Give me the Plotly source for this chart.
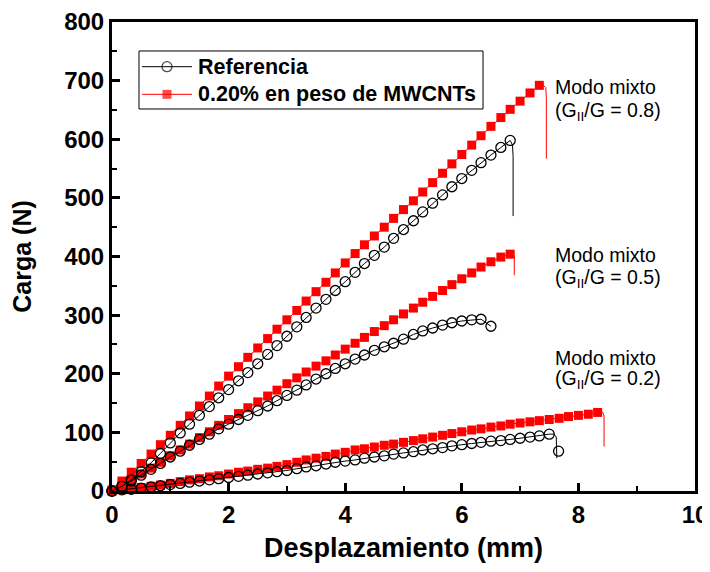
import plotly.graph_objects as go

# Displacement positions of plotted markers (mm)
DISP = [0.00, 0.17, 0.33, 0.50, 0.67, 0.83, 1.00, 1.17, 1.33, 1.50, 1.67, 1.83,
        2.00, 2.17, 2.33, 2.50, 2.67, 2.83, 3.00, 3.17, 3.33, 3.50, 3.67, 3.83,
        4.00, 4.17, 4.33, 4.50, 4.67, 4.83, 5.00, 5.17, 5.33, 5.50, 5.67, 5.83,
        6.00, 6.17, 6.33, 6.50, 6.67, 6.83, 7.00, 7.17, 7.33, 7.50, 7.67, 7.83,
        8.00, 8.17, 8.33]

# Mode mixto GII/G = 0.8
ref_08 = [0, 8, 19, 33, 48, 64, 82, 99, 114, 129, 144, 159, 173, 188, 202, 217,
          233, 248, 264, 280, 296, 312, 327, 342, 357, 373, 388, 402, 416, 431,
          446, 461, 476, 491, 505, 519, 533, 547, 560, 573, 586, 598]
cnt_08 = [2, 17, 32, 47, 63, 79, 95, 112, 128, 145, 162, 179, 196, 212, 228, 244,
          260, 276, 292, 308, 324, 340, 356, 372, 389, 405, 420, 435, 450, 465,
          480, 495, 510, 526, 542, 558, 574, 590, 606, 622, 637, 651, 665, 679, 692]
# Mode mixto GII/G = 0.5
ref_05 = [0, 8, 17, 27, 37, 47, 58, 68, 78, 88, 97, 106, 114, 122, 129, 137,
          145, 154, 163, 172, 181, 191, 200, 209, 217, 225, 232, 240, 246, 252,
          259, 267, 273, 278, 283, 287, 290, 292, 293, 281]
cnt_05 = [0, 9, 19, 29, 39, 49, 60, 70, 80, 91, 101, 112, 122, 132, 142, 152,
          162, 172, 183, 193, 203, 213, 222, 232, 242, 252, 262, 272, 282, 292,
          302, 312, 322, 332, 342, 352, 362, 372, 382, 391, 399, 404]
# Mode mixto GII/G = 0.2
ref_02 = [0, 2, 3, 5, 7, 9, 11, 13, 15, 17, 19, 21, 23, 25, 27, 29, 31, 33, 35,
          38, 41, 43, 46, 49, 51, 53, 56, 58, 60, 63, 65, 67, 70, 72, 74, 77, 79,
          81, 83, 85, 86, 88, 90, 92, 94, 97]
cnt_02 = [0, 2, 4, 6, 8, 10, 13, 16, 19, 21, 24, 26, 29, 32, 34, 37, 39, 42, 45,
          49, 53, 56, 59, 63, 66, 70, 72, 75, 78, 80, 83, 86, 89, 92, 95, 98, 101,
          104, 106, 109, 111, 114, 116, 118, 120, 122, 124, 127, 129, 131, 134]

# Failure (load drop) segments after the last marker
ref_08_tail_x = [6.83, 6.87, 6.88, 6.88]
ref_08_tail_y = [598, 590, 570, 469]
cnt_08_tail_x = [7.33, 7.40, 7.44, 7.45, 7.45]
cnt_08_tail_y = [692, 692, 688, 670, 567]
cnt_05_tail_x = [6.83, 6.89, 6.90, 6.90]
cnt_05_tail_y = [404, 404, 398, 368]
cnt_02_tail_x = [8.33, 8.42, 8.44, 8.44]
cnt_02_tail_y = [134, 134, 128, 76]
ref_02_tail_x = [7.50, 7.58, 7.62, 7.62, 7.63]
ref_02_tail_y = [97, 97, 92, 70, 56]
ref_02_last_x = [7.66]
ref_02_last_y = [68]

series_names = ["Referencia", "0.20% en peso de MWCNTs"]
labels_mode = ["Modo mixto", "Modo mixto", "Modo mixto"]
labels_ratio = ["(G<sub>II</sub>/G = 0.8)", "(G<sub>II</sub>/G = 0.5)", "(G<sub>II</sub>/G = 0.2)"]
label_y1 = [689, 402, 227]
label_y2 = [648, 363, 190]

FONT = "Liberation Sans, Arial, sans-serif"
RED = "#ff0000"

fig = go.Figure()

circ = dict(symbol="circle-open", size=10, color="black", line=dict(width=1.3, color="black"))
sq = dict(symbol="square", size=9, color=RED, line=dict(width=0))

def add_series(y, marker, color):
    fig.add_trace(go.Scatter(x=DISP[:len(y)], y=y, mode="lines+markers",
                             line=dict(color=color, width=1), marker=marker,
                             showlegend=False, cliponaxis=False))

def add_tail(x, y, color):
    fig.add_trace(go.Scatter(x=x, y=y, mode="lines", line=dict(color=color, width=1),
                             showlegend=False, hoverinfo="skip"))

add_tail(ref_08_tail_x, ref_08_tail_y, "black")
add_tail(ref_02_tail_x, ref_02_tail_y, "black")
add_tail(cnt_08_tail_x, cnt_08_tail_y, RED)
add_tail(cnt_05_tail_x, cnt_05_tail_y, RED)
add_tail(cnt_02_tail_x, cnt_02_tail_y, RED)

add_series(cnt_02, sq, RED)
add_series(ref_02, circ, "black")
fig.add_trace(go.Scatter(x=ref_02_last_x, y=ref_02_last_y, mode="markers", marker=circ,
                         showlegend=False, cliponaxis=False))
add_series(cnt_05, sq, RED)
add_series(ref_05, circ, "black")
add_series(cnt_08, sq, RED)
add_series(ref_08, circ, "black")

# ---- custom legend (paper-fraction overlay axes) ----
LEG_X0, LEG_X1, LEG_Y0, LEG_Y1 = 0.0463, 0.6364, 0.8145, 0.9382
SYM_X = [0.0515, 0.0943, 0.1372]
ROW_Y = [0.9047, 0.8458]
TXT_X = 0.1445
fig.add_shape(type="rect", xref="paper", yref="paper", x0=LEG_X0, x1=LEG_X1, y0=LEG_Y0, y1=LEG_Y1,
              line=dict(color="black", width=1), fillcolor="white", layer="below")
for name, ry, color, mk in zip(series_names, ROW_Y, ["black", RED], [circ, sq]):
    mk2 = dict(mk)
    mk2["size"] = [0, mk["size"], 0]
    fig.add_trace(go.Scatter(x=SYM_X, y=[ry] * 3, xaxis="x2", yaxis="y2", mode="lines+markers",
                             line=dict(color=color, width=1), marker=mk2,
                             showlegend=False, hoverinfo="skip"))
    fig.add_annotation(xref="paper", yref="paper", x=TXT_X, y=ry, text=name, showarrow=False,
                       xanchor="left", yanchor="middle",
                       font=dict(family=FONT, size=21.5, color="black", weight="bold"))

for t1, t2, y1, y2 in zip(labels_mode, labels_ratio, label_y1, label_y2):
    fig.add_annotation(x=7.56, y=y1, text=t1, showarrow=False, xanchor="left", yanchor="middle",
                       font=dict(family=FONT, size=19.5, color="black"))
    fig.add_annotation(x=7.56, y=y2, text=t2, showarrow=False, xanchor="left", yanchor="middle",
                       font=dict(family=FONT, size=19.5, color="black"))

axis_common = dict(showline=True, linewidth=3, linecolor="black", mirror=True,
                   ticks="inside", ticklen=8, tickwidth=2.5, tickcolor="black",
                   showgrid=False, zeroline=False, automargin=False,
                   ticklabeloverflow="allow",
                   tickfont=dict(family=FONT, size=24, color="black", weight="bold"))

fig.update_xaxes(range=[0, 10], dtick=2, tick0=0,
                 minor=dict(ticks="inside", ticklen=5, tickwidth=2, dtick=1, tickcolor="black", showgrid=False),
                 title=dict(text="Desplazamiento (mm)", standoff=12,
                            font=dict(family=FONT, size=27, color="black", weight="bold")),
                 ticklabelstandoff=0,
                 **axis_common)
fig.update_yaxes(range=[0, 800], dtick=100, tick0=0,
                 minor=dict(ticks="inside", ticklen=5, tickwidth=2, dtick=50, tickcolor="black", showgrid=False),
                 title=dict(text="Carga (N)", standoff=28,
                            font=dict(family=FONT, size=25, color="black", weight="bold")),
                 ticklabelstandoff=0,
                 **axis_common)

# The page body adds an 8px offset, so the figure is sized to the visible area
fig.update_layout(
    width=702, height=564,
    margin=dict(l=104, r=15, t=14, b=81),
    paper_bgcolor="white", plot_bgcolor="white",
    showlegend=False,
    xaxis2=dict(overlaying="x", range=[0, 1], visible=False, fixedrange=True),
    yaxis2=dict(overlaying="y", range=[0, 1], visible=False, fixedrange=True),
)

fig.write_html("out.html")
